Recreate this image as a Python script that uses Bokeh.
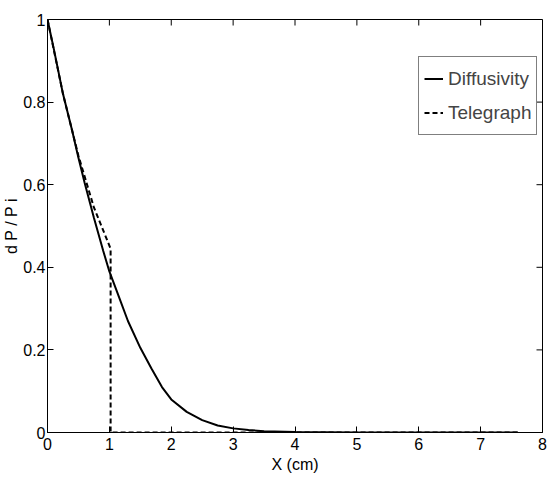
import math
from bokeh.plotting import figure
from bokeh.models import FixedTicker, Legend, LegendItem, Range1d
from bokeh.embed import file_html
from bokeh.resources import INLINE

# Pressure-drop profiles along the core
x_diff = [0.0, 0.1, 0.25, 0.4, 0.5, 0.6, 0.75, 0.9, 1.0, 1.15, 1.3, 1.5, 1.68, 1.85, 2.0,
          2.25, 2.5, 2.75, 3.0, 3.25, 3.5, 4.0, 4.5, 5.0, 6.0, 7.0, 7.6]
y_diff = [1.0, 0.93, 0.82, 0.73, 0.665, 0.605, 0.52, 0.44, 0.39, 0.33, 0.27, 0.205, 0.155,
          0.11, 0.08, 0.05, 0.03, 0.017, 0.01, 0.006, 0.003, 0.001, 0.0005, 0.0, 0.0, 0.0, 0.0]

x_tele = [0.0, 0.25, 0.5, 0.75, 1.02, 1.02, 7.6]
y_tele = [1.0, 0.82, 0.67, 0.545, 0.445, 0.0, 0.0]

x_ticks = [0, 1, 2, 3, 4, 5, 6, 7, 8]
y_ticks = [0, 0.2, 0.4, 0.6, 0.8, 1]
y_tick_labels = ["0", "0.2", "0.4", "0.6", "0.8", "1"]

FONT = "Liberation Sans"

p = figure(frame_width=495, frame_height=413, output_backend="svg", toolbar_location=None,
           x_range=Range1d(0, 8), y_range=Range1d(0, 1),
           min_border_left=46, min_border_right=10, min_border_top=19, min_border_bottom=51)
p.background_fill_color = "white"
p.border_fill_color = "white"
p.outline_line_color = "black"
p.outline_line_width = 1
p.grid.visible = False

r1 = p.line(x_diff, y_diff, line_color="black", line_width=2)
r2 = p.line(x_tele, y_tele, line_color="black", line_width=2, line_dash="5 3")

for ax in (p.xaxis[0], p.yaxis[0]):
    ax.major_tick_in = 6
    ax.major_tick_out = 0
    ax.minor_tick_line_color = None
    ax.major_label_text_font = FONT
    ax.major_label_text_font_size = "16px"
    ax.major_label_text_color = "black"
    ax.axis_label_text_font = FONT
    ax.axis_label_text_font_style = "normal"
    ax.axis_label_text_font_size = "16px"
    ax.axis_label_text_color = "black"
    ax.axis_line_color = "black"

p.xaxis[0].ticker = FixedTicker(ticks=x_ticks)
p.yaxis[0].ticker = FixedTicker(ticks=y_ticks)
p.xaxis[0].major_label_overrides = {t: str(t) for t in x_ticks}
p.yaxis[0].major_label_overrides = dict(zip(y_ticks, y_tick_labels))
p.xaxis[0].axis_label = "X (cm)"
p.yaxis[0].axis_label = "d P / P i"
p.xaxis[0].major_label_standoff = 5
p.yaxis[0].major_label_standoff = 2
p.xaxis[0].axis_label_standoff = 3
p.yaxis[0].axis_label_standoff = 0

# inward ticks along the top and right edges of the box
p.ray(x=x_ticks, y=[1] * len(x_ticks), length=6, length_units="screen",
      angle=-math.pi / 2, line_color="black", line_width=1)
p.ray(x=[8] * len(y_ticks), y=y_ticks, length=6, length_units="screen",
      angle=math.pi, line_color="black", line_width=1)

legend = Legend(items=[LegendItem(label="Diffusivity", renderers=[r1]),
                       LegendItem(label="Telegraph", renderers=[r2])],
                location=(371, 297), padding=5, spacing=1, margin=0,
                glyph_width=19, glyph_height=33, label_height=33, label_standoff=5,
                label_text_font=FONT, label_text_font_size="19px",
                label_text_baseline="middle",
                border_line_color="black", border_line_width=1,
                background_fill_color="white", background_fill_alpha=1)
p.add_layout(legend, "center")

open("out.html", "w").write(file_html(p, INLINE))
